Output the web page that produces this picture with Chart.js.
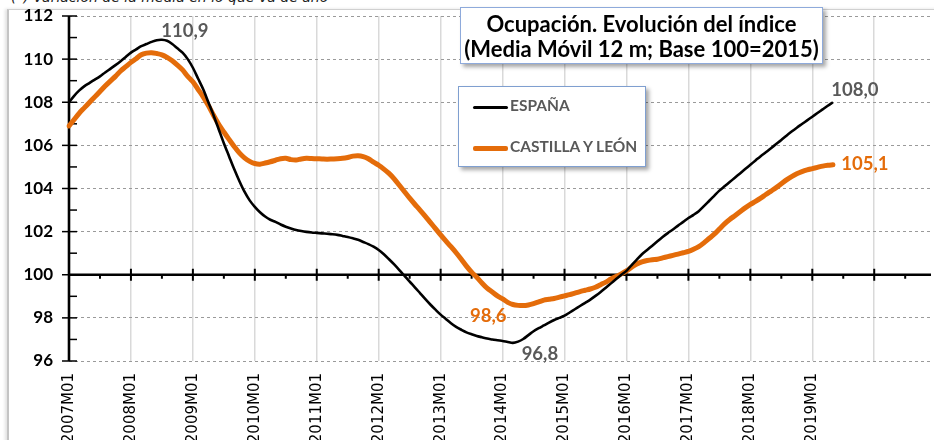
<!DOCTYPE html>
<html><head><meta charset="utf-8">
<script src="https://cdn.jsdelivr.net/npm/chart.js@4.4.0/dist/chart.umd.min.js"></script>
<style>
html,body{margin:0;padding:0;background:#fff;}
#wrap{position:relative;width:934px;height:440px;overflow:hidden;background:#fff;}
#frame{position:absolute;left:7px;top:9px;width:960px;height:460px;border-left:2px solid #c4c4c4;border-top:1px solid #d0d0d0;box-shadow:-2px 0 3px rgba(0,0,0,0.12);}
#note{position:absolute;left:11px;top:-11px;font:italic 14px 'DejaVu Sans';color:#222;white-space:nowrap;}
canvas{position:absolute;left:0;top:0;}
#title{position:absolute;left:460px;top:7px;width:361px;height:55px;border:1px solid #8eaadb;background:#fff;box-shadow:3px 3px 4px rgba(0,0,0,0.35);font:bold 22px Lato;text-align:center;color:#000;}
#title div{line-height:25px;}
#legend{position:absolute;left:458px;top:86px;width:186px;height:79px;border:1px solid #7f9fd0;background:#fff;box-shadow:3px 3px 4px rgba(0,0,0,0.35);font:bold 15.5px Lato;color:#595959;}
.item{position:absolute;left:14px;white-space:nowrap;}
.item span.sw{display:inline-block;width:35px;vertical-align:middle;margin-right:2px;border-radius:2px;}
</style></head>
<body>
<div id="wrap">
<div id="frame"></div>
<div id="note">(*) Variación de la media en lo que va de año</div>
<canvas id="c" width="934" height="440"></canvas>
<div id="title"><div style="margin-top:3px">Ocupación. Evolución del índice</div><div>(Media Móvil 12 m; Base 100=2015)</div></div>
<div id="legend">
 <div class="item" style="top:9px"><span class="sw" style="height:3px;background:#000"></span>ESPAÑA</div>
 <div class="item" style="top:50px"><span class="sw" style="height:5px;background:#E46C0A"></span>CASTILLA Y LEÓN</div>
</div>
</div>
<script>
// ---- data ----
const years = [2007,2008,2009,2010,2011,2012,2013,2014,2015,2016,2017,2018,2019,2020];
const labelledYears = [2007,2008,2009,2010,2011,2012,2013,2014,2015,2016,2017,2018,2019];
const months = ['01','02','03','04','05','06','07','08','09','10','11','12'];
const categories = [];
years.forEach(y => months.forEach(m => categories.push(y + 'M' + m)));

const seriesNames = ['ESPAÑA', 'CASTILLA Y LEÓN'];

const espana = [
108.0,108.3,108.55,108.75,108.9,109.05,109.2,109.38,109.55,109.72,109.9,110.1,
110.3,110.45,110.6,110.7,110.8,110.88,110.9,110.85,110.7,110.5,110.3,110.0,
109.6,109.1,108.6,108.0,107.4,106.75,106.1,105.5,104.9,104.35,103.85,103.45,
103.15,102.9,102.7,102.55,102.45,102.33,102.23,102.15,102.08,102.03,101.99,101.96,
101.94,101.92,101.9,101.88,101.85,101.8,101.75,101.69,101.62,101.52,101.42,101.3,
101.15,100.95,100.72,100.48,100.22,99.95,99.68,99.42,99.15,98.88,98.62,98.38,
98.15,97.95,97.75,97.58,97.45,97.33,97.24,97.16,97.1,97.04,97.0,96.96,
96.93,96.88,96.84,96.9,97.02,97.2,97.38,97.52,97.65,97.78,97.9,98.0,
98.1,98.25,98.4,98.55,98.7,98.85,99.02,99.2,99.4,99.6,99.8,100.0,
100.18,100.45,100.7,100.95,101.15,101.35,101.55,101.75,101.93,102.1,102.28,102.45,
102.63,102.78,102.95,103.18,103.42,103.66,103.9,104.1,104.3,104.5,104.7,104.9,
105.1,105.3,105.5,105.68,105.87,106.06,106.25,106.45,106.64,106.82,106.99,107.16,
107.33,107.5,107.67,107.84,108.0
];

const castillaLeon = [
106.9,107.2,107.5,107.75,108.0,108.25,108.5,108.75,108.98,109.2,109.45,109.65,
109.85,110.02,110.2,110.28,110.3,110.26,110.2,110.08,109.92,109.72,109.5,109.2,
108.95,108.6,108.25,107.85,107.4,106.98,106.62,106.28,105.95,105.65,105.42,105.26,
105.16,105.13,105.18,105.24,105.31,105.38,105.4,105.34,105.32,105.37,105.4,105.39,
105.38,105.37,105.36,105.37,105.38,105.4,105.44,105.5,105.52,105.48,105.38,105.22,
105.08,104.9,104.7,104.45,104.15,103.85,103.55,103.27,103.0,102.72,102.43,102.14,
101.85,101.57,101.3,101.02,100.72,100.4,100.12,99.88,99.62,99.38,99.2,99.02,
98.88,98.72,98.62,98.58,98.57,98.6,98.66,98.74,98.82,98.86,98.9,98.96,
99.02,99.08,99.15,99.22,99.28,99.34,99.42,99.54,99.66,99.8,99.92,100.04,
100.18,100.35,100.5,100.6,100.66,100.7,100.72,100.78,100.84,100.9,100.96,101.02,
101.08,101.18,101.3,101.48,101.68,101.88,102.12,102.36,102.56,102.74,102.92,103.1,
103.26,103.4,103.55,103.72,103.88,104.04,104.22,104.4,104.55,104.68,104.78,104.86,
104.92,104.98,105.04,105.08,105.1
];

const yMin = 96, yMax = 112, yStep = 2, crossValue = 100;

// ---- helpers ----
const argMax = a => a.indexOf(Math.max(...a));
const argMin = a => a.indexOf(Math.min(...a));
const fmt = v => v.toFixed(1).replace('.', ',');

const GREY = '#595959', ORANGE = '#E46C0A';
const annotations = [
  {ds:0, idx:argMax(espana), dx:23, dy:-3, color:GREY},
  {ds:0, idx:espana.length-1, dx:22, dy:-6, color:GREY},
  {ds:1, idx:castillaLeon.length-1, dx:32, dy:5, color:ORANGE},
  {ds:1, idx:argMin(castillaLeon), dx:-35, dy:16, color:ORANGE},
  {ds:0, idx:argMin(espana), dx:27, dy:17, color:GREY}
];

const zeroPad = s => { s.paddingLeft = 0; s.paddingRight = 0; s.paddingTop = 0; s.paddingBottom = 0; };

const axesPlugin = {
  id:'axesPlugin',
  beforeDatasetsDraw(chart){
    const {ctx, chartArea:a, scales:{x, y}} = chart;
    ctx.save();
    ctx.strokeStyle = '#000';
    const y100 = y.getPixelForValue(crossValue);
    ctx.lineWidth = 2.6;
    ctx.beginPath(); ctx.moveTo(a.left, y100); ctx.lineTo(a.right, y100); ctx.stroke();
    ctx.lineWidth = 2;
    for (let i = 0; i < categories.length; i += 6) {
      const px = x.getPixelForValue(i);
      ctx.beginPath();
      if (i % 12 === 0) { ctx.moveTo(px, y100-6); ctx.lineTo(px, y100+6); }
      else { ctx.moveTo(px, y100); ctx.lineTo(px, y100+4); }
      ctx.stroke();
    }
    ctx.lineWidth = 2.6;
    ctx.beginPath(); ctx.moveTo(a.left, a.top); ctx.lineTo(a.left, a.bottom); ctx.stroke();
    ctx.lineWidth = 1.5;
    for (let v = yMin; v <= yMax; v++) {
      const py = y.getPixelForValue(v);
      ctx.beginPath();
      if ((v - yMin) % yStep === 0) { ctx.moveTo(a.left-7, py); ctx.lineTo(a.left+8, py); }
      else { ctx.moveTo(a.left, py); ctx.lineTo(a.left+8, py); }
      ctx.stroke();
    }
    ctx.restore();
  },
  afterDatasetsDraw(chart){
    const {ctx} = chart;
    ctx.save();
    ctx.font = 'bold 18.5px Lato';
    ctx.textAlign = 'center';
    ctx.textBaseline = 'alphabetic';
    annotations.forEach(an => {
      const el = chart.getDatasetMeta(an.ds).data[an.idx];
      const val = chart.data.datasets[an.ds].data[an.idx];
      ctx.fillStyle = an.color;
      ctx.fillText(fmt(val), el.x + an.dx, el.y + an.dy);
    });
    ctx.restore();
  }
};

new Chart(document.getElementById('c'), {
  type:'line',
  data:{
    labels: categories,
    datasets:[
      {label:seriesNames[0], data:espana, borderColor:'#000', borderWidth:2.6, pointRadius:0, tension:0.3, fill:false},
      {label:seriesNames[1], data:castillaLeon, borderColor:ORANGE, borderWidth:5, pointRadius:0, tension:0.3, fill:false, borderCapStyle:'round'}
    ]
  },
  options:{
    responsive:false, animation:false,
    layout:{padding:{left:0, right:3, top:16, bottom:0}},
    plugins:{legend:{display:false}, tooltip:{enabled:false}, title:{display:false}},
    scales:{
      x:{
        type:'category', offset:false,
        afterFit(s){ s.height = 79; zeroPad(s); },
        border:{display:false},
        grid:{drawTicks:false, lineWidth:1.5, color:c => (c.index % 12 === 0 ? '#d9d9d9' : 'rgba(0,0,0,0)')},
        ticks:{autoSkip:false, maxRotation:90, minRotation:90, padding:12, color:'#000',
          font:{family:'DejaVu Sans', size:15},
          callback:(v, i) => {
            const lab = categories[i];
            return (lab.endsWith('M01') && labelledYears.includes(parseInt(lab))) ? lab : '';
          }}
      },
      y:{
        min:yMin, max:yMax,
        afterFit(s){ s.width = 69; zeroPad(s); },
        border:{display:false, dash:[3,3]},
        grid:{drawTicks:false, color:'#9a9a9a', lineWidth:1},
        ticks:{stepSize:yStep, padding:16, color:'#000', font:{family:'Lato', size:17, weight:'bold'}}
      }
    }
  },
  plugins:[axesPlugin]
});
</script>
</body></html>
